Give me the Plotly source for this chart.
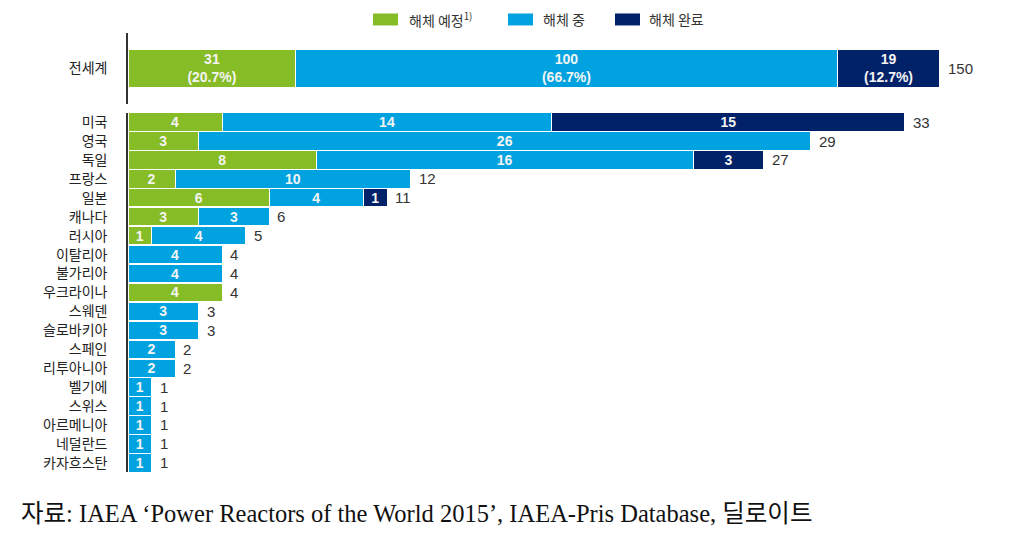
import plotly.graph_objects as go

# ---- data ----
series_names = ["해체 예정", "해체 중", "해체 완료"]
colors = ["#86BC25", "#00A3E0", "#012169"]

world_label = ["전세계"]
world_values = [31, 100, 19]
world_pct = ["20.7%", "66.7%", "12.7%"]

countries = ["미국", "영국", "독일", "프랑스", "일본", "캐나다", "러시아", "이탈리아", "불가리아",
             "우크라이나", "스웨덴", "슬로바키아", "스페인", "리투아니아", "벨기에", "스위스",
             "아르메니아", "네덜란드", "카자흐스탄"]
planned = [4, 3, 8, 2, 6, 3, 1, 0, 0, 4, 0, 0, 0, 0, 0, 0, 0, 0, 0]
ongoing = [14, 26, 16, 10, 4, 3, 4, 4, 4, 0, 3, 3, 2, 2, 1, 1, 1, 1, 1]
completed = [15, 0, 3, 0, 1, 0, 0, 0, 0, 0, 0, 0, 0, 0, 0, 0, 0, 0, 0]
country_series = [planned, ongoing, completed]

source_text = "자료: IAEA ‘Power Reactors of the World 2015’, IAEA-Pris Database, 딜로이트"

# ---- page geometry (the page body has an 8px margin) ----
OFF = 8
W, H = 1022 - OFF, 557 - OFF


def px(x):
    return (x - OFF) / W


def py(y):
    return 1 - (y - OFF) / H


fig = go.Figure()
label_font = dict(family="Liberation Sans, Arial, sans-serif", size=14, color="#F4F4F4")

for i in range(3):
    v = world_values[i]
    fig.add_trace(go.Bar(
        y=world_label, x=[v], orientation="h", name=series_names[i],
        marker=dict(color=colors[i], line=dict(color="white", width=1)),
        width=0.53, xaxis="x", yaxis="y", showlegend=False,
        text=[f"<b>{v}<br>({world_pct[i]})</b>"], textposition="inside",
        insidetextanchor="middle", textangle=0, textfont=label_font,
        constraintext="none", hoverinfo="skip",
    ))

for i in range(3):
    vals = country_series[i]
    fig.add_trace(go.Bar(
        y=countries, x=[v if v > 0 else None for v in vals], orientation="h",
        name=series_names[i],
        marker=dict(color=colors[i], line=dict(color="white", width=1)),
        width=0.97, xaxis="x2", yaxis="y2", showlegend=False,
        text=[f"<b>{v}</b>" if v > 0 else "" for v in vals], textposition="inside",
        insidetextanchor="middle", textangle=0, textfont=label_font,
        constraintext="none", hoverinfo="skip",
    ))

total_font = dict(family="Liberation Sans, Arial, sans-serif", size=15, color="#333333")
annotations = []
shapes = []
annotations.append(dict(x=sum(world_values), y=world_label[0], xref="x", yref="y",
                        text=str(sum(world_values)), showarrow=False, xanchor="left",
                        xshift=6, font=total_font))
for k, c in enumerate(countries):
    tot = planned[k] + ongoing[k] + completed[k]
    annotations.append(dict(x=tot, y=c, xref="x2", yref="y2", text=str(tot), showarrow=False,
                            xanchor="left", xshift=6, font=total_font))

# legend (drawn as shapes + text)
legend_font = dict(family="Noto Sans CJK KR, sans-serif", size=14, color="#333333")
legend_items = [(373, 407, series_names[0] + "<sup>1)</sup>"), (508, 541, series_names[1]),
                (615, 647, series_names[2])]
for i, (sx, tx, txt) in enumerate(legend_items):
    shapes.append(dict(type="rect", xref="paper", yref="paper",
                       x0=px(sx), x1=px(sx + 25), y0=py(23.5), y1=py(11.5),
                       fillcolor=colors[i], line=dict(width=0)))
    annotations.append(dict(x=px(tx), y=py(17.5), xref="paper", yref="paper", text=txt,
                            showarrow=False, xanchor="left", yanchor="middle", font=legend_font))

annotations.append(dict(
    x=px(19), y=py(513), xref="paper", yref="paper", xanchor="left", yanchor="middle",
    text=source_text, showarrow=False,
    font=dict(family="Liberation Serif, Times New Roman, Noto Sans CJK KR, serif", size=24.5,
              color="#111111"),
))

x0 = px(128)
tick_font = dict(family="Noto Sans CJK KR, sans-serif", size=14, color="#222222")
fig.update_layout(
    width=W, height=H,
    margin=dict(l=0, r=0, t=0, b=0),
    paper_bgcolor="white", plot_bgcolor="white",
    barmode="stack",
    showlegend=False,
    xaxis=dict(domain=[x0, 1], range=[0, (1022 - 128) / 5.413], visible=False, anchor="y"),
    xaxis2=dict(domain=[x0, 1], range=[0, (1022 - 128) / 23.545], visible=False, anchor="y2"),
    yaxis=dict(domain=[py(102), py(31)], anchor="x", range=[-0.5, 0.5],
               showline=True, linecolor="#333333", linewidth=1.5, showgrid=False,
               zeroline=False, ticks="", tickfont=tick_font, ticklabelstandoff=16),
    yaxis2=dict(domain=[py(472), py(111)], anchor="x2",
                categoryorder="array", categoryarray=countries, range=[18.5, -0.5],
                showline=True, linecolor="#333333", linewidth=1.5, showgrid=False,
                zeroline=False, ticks="", tickfont=tick_font, ticklabelstandoff=16),
    annotations=annotations,
    shapes=shapes,
)

fig.write_html("out.html")
